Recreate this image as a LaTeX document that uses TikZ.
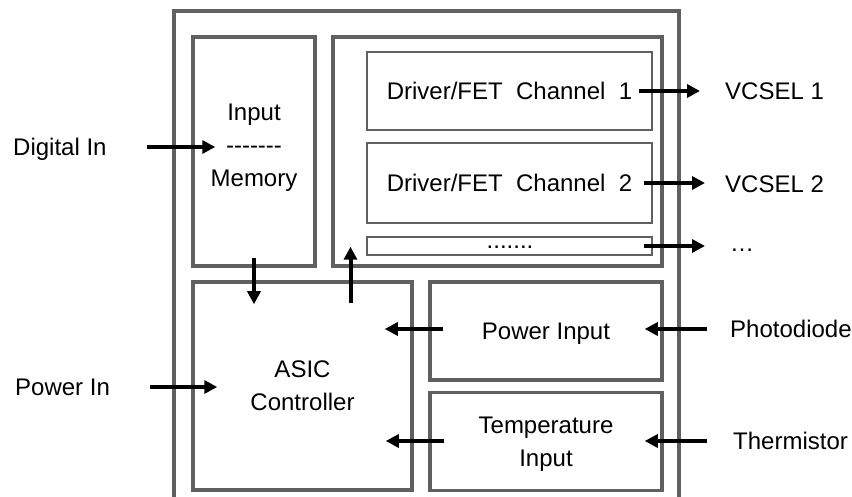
\documentclass[tikz,border=0pt]{standalone}
\usepackage{fontspec}
\setmainfont{Liberation Sans}
\usepackage{xcolor}
\usepackage{tikz}
\usetikzlibrary{arrows.meta,positioning,calc}

\definecolor{boxgray}{RGB}{96,96,96}
\newcommand{\hyrule}{\mbox{-}\mbox{-}\mbox{-}\mbox{-}\mbox{-}\mbox{-}\mbox{-}}

\begin{document}
\begin{tikzpicture}[
    x=1pt, y=-1pt,
    font=\fontsize{24}{33}\selectfont,
    block/.style={draw=boxgray, line width=3.5pt, inner sep=0pt, align=center,
                  text depth=0pt},
    chbox/.style={draw=boxgray, line width=2pt, inner sep=0pt, align=center,
                  minimum width=285pt, text depth=0pt},
    frame/.style={draw=boxgray, line width=4pt},
    arrow/.style={-{Triangle[length=13pt,width=13pt]}, line width=4pt},
    elabel/.style={inner sep=0pt, text depth=0pt},
]
\useasboundingbox (0,0) rectangle (852,497);

% ── Outer module frame (open at the bottom) ──
\draw[frame] (174,500) -- (174,11) -- (679,11) -- (679,500);

% ── Top row: memory and driver panel ──
\node[block, minimum width=122pt, minimum height=229pt] (mem) at (254,151.5) {};
\node[align=center, inner sep=0pt, text depth=0pt] (memtxt) at (254,145.5) {Input\\\hyrule\\Memory};
\node[block, minimum width=329pt, minimum height=229pt] (panel) at (497.5,151.5) {};

% ── Driver channels ──
\node[chbox, minimum height=78pt] (ch1) at (509.5,91) {Driver/FET\ \ Channel\ \ 1};
\node[chbox, minimum height=80pt] (ch2) at (509.5,183) {Driver/FET\ \ Channel\ \ 2};
\node[chbox, minimum height=18pt] (chdots) at (509.5,246) {};
\node[anchor=base, inner sep=0pt] (dotstxt) at (510,249) {.......};

% ── Bottom row: controller and inputs ──
\node[block, minimum width=219pt, minimum height=208pt] (asic) at (302.5,386) {ASIC\\Controller};
\node[block, minimum width=232pt, minimum height=98pt] (pwr) at (546,331) {Power\ Input};
\node[block, minimum width=232pt, minimum height=98pt] (temp) at (546,441.5) {Temperature\\Input};

% ── External signals ──
\node[elabel, anchor=west] (digin) at (13,147) {Digital In};
\node[elabel, anchor=west] (pwrin) at (15,387) {Power In};
\node[elabel, anchor=west] (vcsel1) at (725,91) {VCSEL 1};
\node[elabel, anchor=west] (vcsel2) at (725,184) {VCSEL 2};
\node[elabel, anchor=west] (more) at (730,250) {\textellipsis};
\node[elabel, anchor=west] (photo) at (730,329) {Photodiode};
\node[elabel, anchor=west] (therm) at (733,441) {Thermistor};

% ── Arrows ──
\draw[arrow] ([xshift=40pt]digin.east) -- ([xshift=24pt]digin.east -| mem.west);
\draw[arrow] ([xshift=40pt]pwrin.east) -- ([xshift=26pt]pwrin.east -| asic.west);
\draw[arrow] ([yshift=10pt]mem.south) -- ([yshift=-24pt]mem.south |- asic.north);
\draw[arrow] ([xshift=48pt,yshift=-23pt]asic.north) -- ([xshift=48pt,yshift=21pt]asic.north |- panel.south);
\draw[arrow] ([xshift=-14pt]ch1.east) -- ([xshift=-25pt]vcsel1.west);
\draw[arrow] ([xshift=-9pt]ch2.east) -- ([xshift=-20pt]ch2.east -| vcsel2.west);
\draw[arrow] ([xshift=-9pt]chdots.east) -- ([xshift=-25pt]chdots.east -| more.west);
\draw[arrow] ([xshift=-23pt]photo.west) -- ([xshift=-19pt]photo.west -| pwr.east);
\draw[arrow] ([xshift=15pt]pwr.west |- photo.west) -- ([xshift=-29pt]asic.east |- photo.west);
\draw[arrow] ([xshift=-26pt]therm.west) -- ([xshift=-19pt]therm.west -| temp.east);
\draw[arrow] ([xshift=16pt]temp.west |- therm.west) -- ([xshift=-28pt]asic.east |- therm.west);

\end{tikzpicture}
\end{document}
